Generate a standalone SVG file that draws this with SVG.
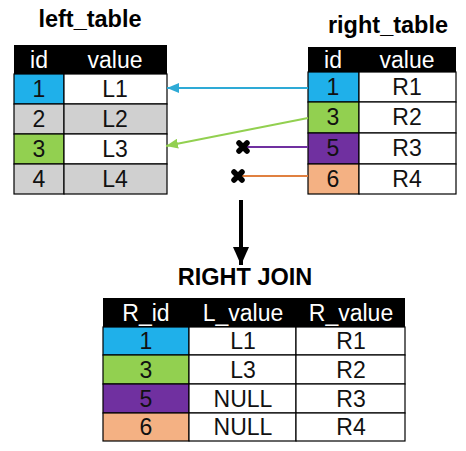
<svg xmlns="http://www.w3.org/2000/svg" width="466" height="451" viewBox="0 0 466 451">
<defs>
<style>
.title{font-family:"Liberation Sans",Arial,sans-serif;font-weight:bold;font-size:23.5px;fill:#000;text-anchor:middle}
.hd{fill:#000}
.ht{font-family:"Liberation Sans",Arial,sans-serif;font-size:23px;fill:#fff;text-anchor:middle}
.ct{font-family:"Liberation Sans",Arial,sans-serif;font-size:23px;fill:#111;text-anchor:middle}
.cell{stroke:#000;stroke-width:1.2}
.w{fill:#fff}.g{fill:#d0d0d0}.b{fill:#1fb0ea}.gr{fill:#92d050}.p{fill:#7030a0}.o{fill:#f4b183}
.x{stroke:#000;stroke-width:5.5;stroke-linecap:round;fill:none}
</style>
<marker id="ab" viewBox="0 0 12 10" refX="12" refY="5" markerWidth="12" markerHeight="10" markerUnits="userSpaceOnUse" orient="auto"><path d="M0,0 L12,5 L0,10 Z" fill="#2eaad6"/></marker>
<marker id="ag" viewBox="0 0 12 10" refX="12" refY="5" markerWidth="12" markerHeight="10" markerUnits="userSpaceOnUse" orient="auto"><path d="M0,0 L12,5 L0,10 Z" fill="#92d050"/></marker>
<marker id="ak" viewBox="0 0 18 16" refX="18" refY="8" markerWidth="18" markerHeight="16" markerUnits="userSpaceOnUse" orient="auto"><path d="M0,0 L18,8 L0,16 Z" fill="#000"/></marker>
</defs>
<rect width="466" height="451" fill="#fff"/>

<g id="left_table">
<text class="title" x="90" y="27">left_table</text>
<rect class="hd" x="14" y="45" width="153" height="29"/>
<text class="ht" x="39" y="68">id</text><text class="ht" x="115" y="68">value</text>
<rect class="cell b" x="14" y="74" width="50" height="30"/><rect class="cell w" x="64" y="74" width="103" height="30"/>
<text class="ct" x="39" y="97">1</text><text class="ct" x="115" y="97">L1</text>
<rect class="cell g" x="14" y="104" width="50" height="30"/><rect class="cell g" x="64" y="104" width="103" height="30"/>
<text class="ct" x="39" y="127">2</text><text class="ct" x="115" y="127">L2</text>
<rect class="cell gr" x="14" y="134" width="50" height="30"/><rect class="cell w" x="64" y="134" width="103" height="30"/>
<text class="ct" x="39" y="157">3</text><text class="ct" x="115" y="157">L3</text>
<rect class="cell g" x="14" y="164" width="50" height="30"/><rect class="cell g" x="64" y="164" width="103" height="30"/>
<text class="ct" x="39" y="187">4</text><text class="ct" x="115" y="187">L4</text>
</g>

<g id="right_table">
<text class="title" x="388" y="33">right_table</text>
<rect class="hd" x="308" y="47" width="148" height="25"/>
<text class="ht" x="333" y="68">id</text><text class="ht" x="407" y="68">value</text>
<rect class="cell b" x="308" y="72" width="51" height="30"/><rect class="cell w" x="359" y="72" width="97" height="30"/>
<text class="ct" x="333" y="95">1</text><text class="ct" x="407" y="95">R1</text>
<rect class="cell gr" x="308" y="102" width="51" height="31"/><rect class="cell w" x="359" y="102" width="97" height="31"/>
<text class="ct" x="333" y="125">3</text><text class="ct" x="407" y="125">R2</text>
<rect class="cell p" x="308" y="133" width="51" height="31"/><rect class="cell w" x="359" y="133" width="97" height="31"/>
<text class="ct" x="333" y="156">5</text><text class="ct" x="407" y="156">R3</text>
<rect class="cell o" x="308" y="164" width="51" height="30"/><rect class="cell w" x="359" y="164" width="97" height="30"/>
<text class="ct" x="333" y="187">6</text><text class="ct" x="407" y="187">R4</text>
</g>

<g id="connectors">
<line x1="308" y1="88" x2="167" y2="88" stroke="#2eaad6" stroke-width="2" marker-end="url(#ab)"/>
<line x1="308" y1="118" x2="166" y2="146" stroke="#92d050" stroke-width="2" marker-end="url(#ag)"/>
<line x1="308" y1="147" x2="245" y2="147" stroke="#7030a0" stroke-width="2"/>
<path class="x" d="M239,143 L247,151 M247,143 L239,151"/>
<line x1="308" y1="176" x2="240" y2="176" stroke="#e08040" stroke-width="2"/>
<path class="x" d="M234,172 L242,180 M242,172 L234,180"/>
<line x1="241" y1="200" x2="241" y2="265" stroke="#000" stroke-width="4" marker-end="url(#ak)"/>
</g>

<g id="result_table">
<text class="title" x="245" y="285">RIGHT JOIN</text>
<rect class="hd" x="103" y="298" width="302" height="29"/>
<text class="ht" x="146" y="321" font-size="25">R_id</text><text class="ht" x="243" y="321" font-size="25">L_value</text><text class="ht" x="351" y="321" font-size="25">R_value</text>
<rect class="cell b" x="103" y="327" width="86" height="28"/><rect class="cell w" x="189" y="327" width="107" height="28"/><rect class="cell w" x="296" y="327" width="109" height="28"/>
<text class="ct" x="146" y="349">1</text><text class="ct" x="243" y="349">L1</text><text class="ct" x="351" y="349">R1</text>
<rect class="cell gr" x="103" y="355" width="86" height="29"/><rect class="cell w" x="189" y="355" width="107" height="29"/><rect class="cell w" x="296" y="355" width="109" height="29"/>
<text class="ct" x="146" y="378">3</text><text class="ct" x="243" y="378">L3</text><text class="ct" x="351" y="378">R2</text>
<rect class="cell p" x="103" y="384" width="86" height="29"/><rect class="cell w" x="189" y="384" width="107" height="29"/><rect class="cell w" x="296" y="384" width="109" height="29"/>
<text class="ct" x="146" y="407">5</text><text class="ct" x="243" y="407">NULL</text><text class="ct" x="351" y="407">R3</text>
<rect class="cell o" x="103" y="413" width="86" height="28"/><rect class="cell w" x="189" y="413" width="107" height="28"/><rect class="cell w" x="296" y="413" width="109" height="28"/>
<text class="ct" x="146" y="435">6</text><text class="ct" x="243" y="435">NULL</text><text class="ct" x="351" y="435">R4</text>
</g>
</svg>
